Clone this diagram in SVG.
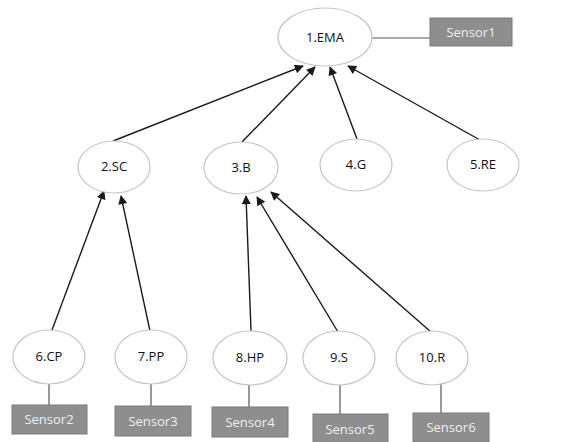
<svg xmlns="http://www.w3.org/2000/svg" width="566" height="442" viewBox="0 0 566 442">
  <style>
    .node ellipse { fill: #ffffff; stroke: #c4c4c4; stroke-width: 1.2; }
    .node text { font-family: "Open Sans", "Liberation Sans", sans-serif; font-size: 13px; fill: #111111; text-anchor: middle; }
    .sensor rect { fill: #8e8e8e; stroke: #7a7a7a; stroke-width: 1; }
    .sensor text { font-family: "Open Sans", "Liberation Sans", sans-serif; font-size: 13px; fill: #eeeeee; text-anchor: middle; }
    .edge { stroke: #1a1a1a; stroke-width: 1.4; fill: none; }
    .arrow { marker-end: url(#head); }
    .link { stroke: #555555; stroke-width: 1.2; }
  </style>
  <defs>
    <marker id="head" viewBox="0 0 10 10" refX="9" refY="5" markerWidth="10" markerHeight="9" markerUnits="userSpaceOnUse" orient="auto">
      <path d="M0,0 L10,5 L0,10 z" fill="#1a1a1a"/>
    </marker>
  </defs>

  <rect width="566" height="442" fill="#ffffff"/>

  <g id="connectors">
    <!-- level 2 to 1.EMA -->
    <line class="edge arrow" x1="113" y1="141" x2="303" y2="66"/>
    <line class="edge arrow" x1="242" y1="142" x2="315" y2="67"/>
    <line class="edge arrow" x1="357" y1="139" x2="330" y2="67"/>
    <line class="edge arrow" x1="480" y1="140" x2="348" y2="66"/>
    <!-- level 3 to parents -->
    <line class="edge arrow" x1="52" y1="330" x2="104" y2="191"/>
    <line class="edge arrow" x1="150" y1="331" x2="121" y2="196"/>
    <line class="edge arrow" x1="251" y1="331" x2="246" y2="196"/>
    <line class="edge arrow" x1="338" y1="332" x2="257" y2="197"/>
    <line class="edge arrow" x1="431" y1="332" x2="271" y2="192"/>
    <!-- sensor links -->
    <line class="edge link" x1="372" y1="38" x2="430" y2="38"/>
    <line class="edge link" x1="49" y1="384" x2="49" y2="405"/>
    <line class="edge link" x1="151" y1="384" x2="151" y2="406"/>
    <line class="edge link" x1="249" y1="385" x2="249" y2="407"/>
    <line class="edge link" x1="340" y1="385" x2="340" y2="414"/>
    <line class="edge link" x1="441" y1="384" x2="441" y2="413"/>
  </g>

  <g id="n1" class="node"><ellipse cx="325" cy="37" rx="47" ry="29"/><text x="325" y="42">1.EMA</text></g>
  <g id="n2" class="node"><ellipse cx="114" cy="167" rx="36" ry="26"/><text x="114" y="171">2.SC</text></g>
  <g id="n3" class="node"><ellipse cx="241" cy="168" rx="37" ry="26"/><text x="241" y="172">3.B</text></g>
  <g id="n4" class="node"><ellipse cx="356" cy="165" rx="36" ry="26"/><text x="356" y="169">4.G</text></g>
  <g id="n5" class="node"><ellipse cx="483" cy="165" rx="36" ry="26"/><text x="483" y="169">5.RE</text></g>
  <g id="n6" class="node"><ellipse cx="49" cy="357" rx="36" ry="27"/><text x="49" y="361">6.CP</text></g>
  <g id="n7" class="node"><ellipse cx="151" cy="357" rx="36" ry="27"/><text x="151" y="361">7.PP</text></g>
  <g id="n8" class="node"><ellipse cx="250" cy="358" rx="37" ry="27"/><text x="250" y="362">8.HP</text></g>
  <g id="n9" class="node"><ellipse cx="339" cy="358" rx="36" ry="27"/><text x="339" y="362">9.S</text></g>
  <g id="n10" class="node"><ellipse cx="432" cy="358" rx="36" ry="27"/><text x="432" y="362">10.R</text></g>

  <g id="sensor1" class="sensor"><rect x="430" y="18" width="82" height="28"/><text x="471" y="37">Sensor1</text></g>
  <g id="sensor2" class="sensor"><rect x="12" y="405" width="75" height="29"/><text x="49" y="424">Sensor2</text></g>
  <g id="sensor3" class="sensor"><rect x="115" y="406" width="76" height="30"/><text x="153" y="426">Sensor3</text></g>
  <g id="sensor4" class="sensor"><rect x="212" y="407" width="76" height="30"/><text x="250" y="427">Sensor4</text></g>
  <g id="sensor5" class="sensor"><rect x="313" y="414" width="75" height="30"/><text x="350" y="434">Sensor5</text></g>
  <g id="sensor6" class="sensor"><rect x="413" y="413" width="76" height="29"/><text x="451" y="432">Sensor6</text></g>
</svg>
